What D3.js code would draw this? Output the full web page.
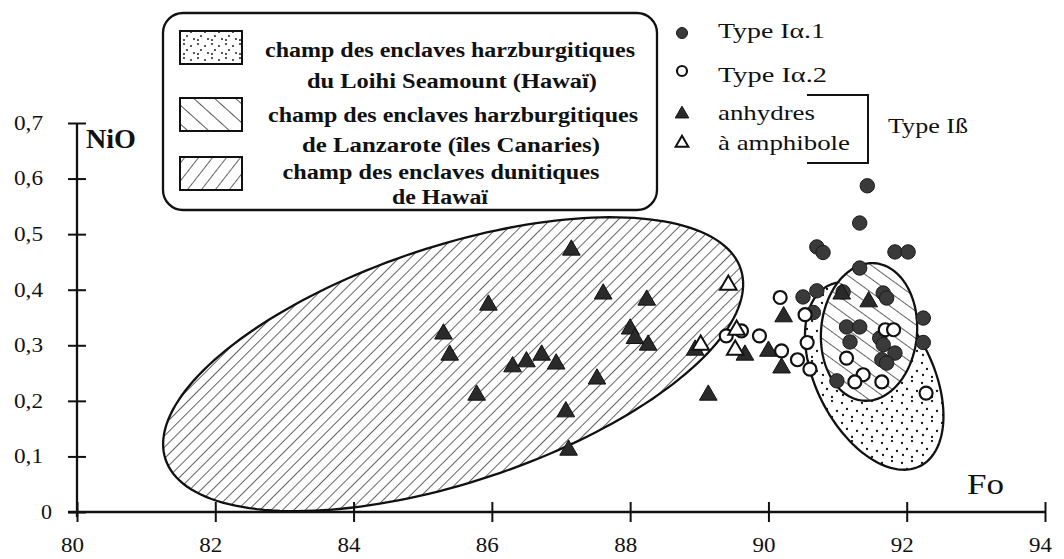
<!DOCTYPE html>
<html><head><meta charset="utf-8">
<script src="https://cdn.jsdelivr.net/npm/d3@7"></script>
<style>
html,body{margin:0;padding:0;background:#fff;}
svg{display:block;}
text{font-family:"Liberation Serif","Times New Roman",serif;fill:#111;}
</style></head><body>
<svg id="chart" width="1064" height="559"></svg>
<script>
// ---------------- data ----------------
const xTicks = [80, 82, 84, 86, 88, 90, 92, 94];
const xTickLabels = ["80", "82", "84", "86", "88", "90", "92", "94"];
const yTicks = [0, 0.1, 0.2, 0.3, 0.4, 0.5, 0.6, 0.7];
const yTickLabels = ["0", "0,1", "0,2", "0,3", "0,4", "0,5", "0,6", "0,7"];

// [Fo, NiO]
const typeIa1 = [
  [91.43,0.587],[91.32,0.520],[90.70,0.477],[90.79,0.467],[91.83,0.468],[92.02,0.468],
  [91.32,0.439],[91.08,0.396],[91.66,0.394],[91.71,0.385],[90.50,0.387],[90.70,0.398],
  [90.65,0.359],[92.24,0.349],[91.13,0.333],[91.32,0.333],[91.18,0.306],[91.61,0.313],
  [91.66,0.301],[92.24,0.305],[91.83,0.286],[91.64,0.274],[91.71,0.268],[90.99,0.236]
];
const typeIa2 = [
  [90.17,0.386],[89.39,0.317],[89.61,0.326],[89.87,0.317],[90.19,0.290],[90.42,0.274],
  [90.60,0.257],[90.56,0.305],[90.53,0.355],[91.69,0.328],[91.81,0.328],[91.13,0.277],
  [91.37,0.247],[91.25,0.234],[91.64,0.234],[92.28,0.214]
];
const anhydres = [
  [85.30,0.324],[85.39,0.286],[87.15,0.475],[87.61,0.396],[88.24,0.385],[85.95,0.376],
  [88.00,0.333],[88.07,0.316],[88.26,0.304],[86.72,0.286],[86.50,0.274],[86.30,0.265],
  [86.93,0.270],[87.52,0.243],[85.78,0.214],[87.07,0.184],[87.11,0.115],[89.13,0.214],
  [88.94,0.295],[89.66,0.286],[90.00,0.293],[90.22,0.355],[90.19,0.263],[91.06,0.396],
  [91.45,0.382]
];
const amphibole = [[89.42,0.412],[89.02,0.304],[89.54,0.331],[89.52,0.295]];

// fields: [centreFo, centreNiO, axis1 dFo, axis1 dNiO, axis2 dFo, axis2 dNiO]
const fieldLoihi     = [91.53, 0.245, 0.668, -0.162, 0.746, 0.048];
const fieldLanzarote = [91.455, 0.324, 0.087, 0.1236, 0.691, -0.0076];
const fieldHawaii    = [85.44, 0.266, 4.16, 0.1711, -0.537, 0.2016];

const fieldLabels = [
  ["champ des enclaves harzburgitiques", "du Loihi Seamount (Hawaï)"],
  ["champ des enclaves harzburgitiques", "de Lanzarote (îles Canaries)"],
  ["champ des enclaves dunitiques", "de Hawaï"]
];
const symbolLabels = ["Type Iα.1", "Type Iα.2", "anhydres", "à amphibole"];
const groupLabel = "Type Iß";
const xTitle = "Fo", yTitle = "NiO";

// ---------------- drawing ----------------
const svg = d3.select("#chart");
const x = d3.scaleLinear().domain([80, 94]).range([77, 1045]);
const y = d3.scaleLinear().domain([0, 0.7]).range([512, 123]);
const ink = "#111";

// patterns
const defs = svg.append("defs");
function hatch(id, spacing, angle, sw) {
  const p = defs.append("pattern").attr("id", id).attr("patternUnits", "userSpaceOnUse")
    .attr("width", spacing).attr("height", spacing)
    .attr("patternTransform", `rotate(${angle})`);
  p.append("rect").attr("width", spacing).attr("height", spacing).attr("fill", "#fff");
  p.append("line").attr("x1", 0).attr("y1", -1).attr("x2", 0).attr("y2", spacing + 1)
    .attr("stroke", ink).attr("stroke-width", sw);
}
hatch("hFwd", 8, 45, 1.3);
hatch("hBack", 11, -54, 1.3);
hatch("hFwdLeg", 11, 38, 1.3);
hatch("hBackLeg", 14, -48, 1.4);
function dots(id, size, pts, r) {
  const p = defs.append("pattern").attr("id", id).attr("patternUnits", "userSpaceOnUse")
    .attr("width", size).attr("height", size);
  p.append("rect").attr("width", size).attr("height", size).attr("fill", "#fff");
  pts.forEach(q => p.append("circle").attr("cx", q[0]).attr("cy", q[1]).attr("r", r).attr("fill", ink));
}
dots("dots", 20, [[2,3],[12,1],[7,9],[17,11],[3,15],[12,17]], 1.15);
dots("dotsLeg", 14, [[2,2],[9,4],[5,8],[12,11],[2,12]], 0.95);

// fields
function fieldPath(f) {
  const pts = d3.range(0, 2 * Math.PI, Math.PI / 90).map(t => [
    x(f[0] + Math.cos(t) * f[2] + Math.sin(t) * f[4]),
    y(f[1] + Math.cos(t) * f[3] + Math.sin(t) * f[5])
  ]);
  return d3.line().curve(d3.curveLinearClosed)(pts);
}
const gF = svg.append("g");
gF.append("path").attr("d", fieldPath(fieldHawaii)).attr("fill", "url(#hFwd)").attr("stroke", ink).attr("stroke-width", 2.3);
gF.append("path").attr("d", fieldPath(fieldLoihi)).attr("fill", "url(#dots)").attr("stroke", ink).attr("stroke-width", 2.3);
gF.append("path").attr("d", fieldPath(fieldLanzarote)).attr("fill", "url(#hBack)").attr("stroke", ink).attr("stroke-width", 2.3);

// axes
const gx = svg.append("g").attr("transform", `translate(0,${y(0)})`);
gx.call(d3.axisBottom(x).tickValues(xTicks).tickFormat((d, i) => xTickLabels[i]).tickSize(10).tickSizeOuter(0));
gx.select(".domain").remove();
gx.selectAll(".tick line").attr("y1", -10).attr("y2", 10).attr("stroke", ink).attr("stroke-width", 2);
gx.selectAll(".tick text").attr("x", -5).attr("y", 40).attr("dy", null).attr("font-size", 20)
  .attr("textLength", 23).attr("lengthAdjust", "spacingAndGlyphs").attr("fill", ink)
  .style("font-family", '"Liberation Serif", serif');
gx.append("line").attr("x1", x(80) - 9).attr("x2", x(94)).attr("y1", 0).attr("y2", 0)
  .attr("stroke", ink).attr("stroke-width", 2.3);

const gy = svg.append("g").attr("transform", `translate(${x(80)},0)`);
gy.call(d3.axisLeft(y).tickValues(yTicks).tickFormat((d, i) => yTickLabels[i]).tickSize(9).tickSizeOuter(0));
gy.select(".domain").remove();
gy.selectAll(".tick line").attr("x1", -9).attr("x2", 9).attr("stroke", ink).attr("stroke-width", 2);
gy.selectAll(".tick text").attr("x", d => d === 0 ? -25 : -34).attr("font-size", 20)
  .attr("textLength", d => d === 0 ? 11 : 29).attr("lengthAdjust", "spacingAndGlyphs").attr("fill", ink)
  .style("font-family", '"Liberation Serif", serif');
gy.append("line").attr("x1", 0).attr("x2", 0).attr("y1", y(0.7)).attr("y2", y(0) + 5)
  .attr("stroke", ink).attr("stroke-width", 2.3);

svg.append("text").attr("x", x(80) + 9).attr("y", y(0.7) + 25).attr("font-size", 28).attr("font-weight", "bold")
  .attr("textLength", 50).attr("lengthAdjust", "spacingAndGlyphs").text(yTitle);
svg.append("text").attr("x", x(94) - 78).attr("y", y(0) - 18).attr("font-size", 29)
  .attr("textLength", 37).attr("lengthAdjust", "spacingAndGlyphs").text(xTitle);

// points
const triFill = d3.symbol().type(d3.symbolTriangle).size(135)();
const gP = svg.append("g");
gP.selectAll(".c1").data(typeIa1).join("circle")
  .attr("cx", d => x(d[0])).attr("cy", d => y(d[1])).attr("r", 7.2)
  .attr("fill", "#3a3a3a").attr("stroke", "#1a1a1a").attr("stroke-width", 1);
gP.selectAll(".t1").data(anhydres).join("path").attr("d", triFill)
  .attr("transform", d => `translate(${x(d[0])},${y(d[1]) + 2})`)
  .attr("fill", "#2a2a2a").attr("stroke", "#111").attr("stroke-width", 1);
gP.selectAll(".c2").data(typeIa2).join("circle")
  .attr("cx", d => x(d[0])).attr("cy", d => y(d[1])).attr("r", 6.5)
  .attr("fill", "#fff").attr("stroke", ink).attr("stroke-width", 2.2);
gP.selectAll(".t2").data(amphibole).join("path").attr("d", d3.symbol().type(d3.symbolTriangle).size(120)())
  .attr("transform", d => `translate(${x(d[0])},${y(d[1]) + 2})`)
  .attr("fill", "#fff").attr("stroke", ink).attr("stroke-width", 2);

// field legend box
const gL = svg.append("g");
gL.append("rect").attr("x", 163).attr("y", 13).attr("width", 494).attr("height", 197).attr("rx", 20)
  .attr("fill", "#fff").attr("stroke", ink).attr("stroke-width", 2.3);
const swFills = ["url(#dotsLeg)", "url(#hBackLeg)", "url(#hFwdLeg)"];
const swY = [31, 98, 157];
swFills.forEach((f, i) => {
  gL.append("rect").attr("x", 180).attr("y", swY[i]).attr("width", 62).attr("height", 33)
    .attr("fill", f).attr("stroke", ink).attr("stroke-width", 2);
});
const lineY = [[57, 88], [122, 152], [179, 204]];
const lineX = [[450, 452], [453, 451], [441, 440]];
const lineW = [[370, 290], [370, 298], [317, 96]];
fieldLabels.forEach((pair, i) => pair.forEach((t, j) => {
  gL.append("text").attr("x", lineX[i][j]).attr("y", lineY[i][j]).attr("text-anchor", "middle")
    .attr("font-size", 20).attr("font-weight", "bold")
    .attr("textLength", lineW[i][j]).attr("lengthAdjust", "spacingAndGlyphs").text(t);
}));

// symbol legend
const gS = svg.append("g");
const symY = [33, 71, 113, 142];
const txtY = [38, 82, 120, 150];
const txtW = [107, 109, 97, 132];
gS.append("circle").attr("cx", 682).attr("cy", symY[0]).attr("r", 5.5).attr("fill", "#3a3a3a").attr("stroke", "#1a1a1a");
gS.append("circle").attr("cx", 682).attr("cy", symY[1]).attr("r", 5).attr("fill", "#fff").attr("stroke", ink).attr("stroke-width", 2.2);
gS.append("path").attr("d", d3.symbol().type(d3.symbolTriangle).size(80)()).attr("transform", `translate(682,${symY[2] + 1})`).attr("fill", "#2a2a2a").attr("stroke", ink);
gS.append("path").attr("d", d3.symbol().type(d3.symbolTriangle).size(70)()).attr("transform", `translate(682,${symY[3] + 1})`).attr("fill", "#fff").attr("stroke", ink).attr("stroke-width", 2);
symbolLabels.forEach((t, i) => {
  gS.append("text").attr("x", 718).attr("y", txtY[i]).attr("font-size", 21)
    .attr("textLength", txtW[i]).attr("lengthAdjust", "spacingAndGlyphs").text(t);
});
gS.append("path").attr("d", "M807,95H868V163H807").attr("fill", "none").attr("stroke", ink).attr("stroke-width", 2);
gS.append("text").attr("x", 888).attr("y", 133).attr("font-size", 21)
  .attr("textLength", 80).attr("lengthAdjust", "spacingAndGlyphs").text(groupLabel);
</script>
</body></html>
